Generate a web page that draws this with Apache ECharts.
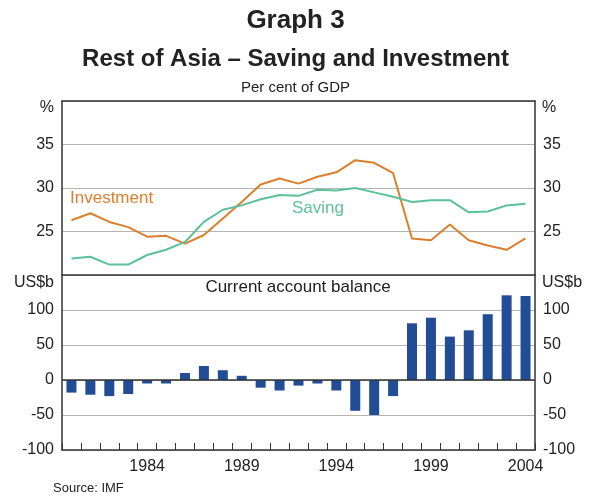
<!DOCTYPE html>
<html>
<head>
<meta charset="utf-8">
<script src="https://cdn.jsdelivr.net/npm/echarts@6/dist/echarts.min.js"></script>
<style>
html,body{margin:0;padding:0;background:#fff;}
#chart{width:591px;height:497px;}
</style>
</head>
<body>
<div id="chart"></div>
<script>
const years = ['1980','1981','1982','1983','1984','1985','1986','1987','1988','1989','1990','1991','1992','1993','1994','1995','1996','1997','1998','1999','2000','2001','2002','2003','2004'];
const investment = [26.3,27.1,26.1,25.5,24.4,24.5,23.6,24.6,26.5,28.4,30.4,31.1,30.5,31.3,31.8,33.2,32.9,31.7,24.2,24.0,25.8,24.0,23.4,22.9,24.2];
const saving = [21.9,22.1,21.2,21.2,22.3,22.9,23.8,26.1,27.5,28.0,28.7,29.2,29.1,29.8,29.7,30.0,29.5,29.0,28.4,28.6,28.6,27.2,27.3,28.0,28.2];
const currentAccount = [-18,-21,-23,-20,-5,-5,10,20,14,6,-11,-15,-8,-5,-15,-44,-50,-23,81,89,62,71,94,121,120];
const labelYears = ['1984','1989','1994','1999','2004'];

const frame = '#333333';
const gridCol = '#b4b4b4';
const txt = '#222222';
const font = 'Liberation Sans, Arial, sans-serif';

const chart = echarts.init(document.getElementById('chart'), null, {renderer:'canvas'});
const yLab = (hide) => ({
  show: true, fontSize: 16, color: txt, fontFamily: font, margin: 8,
  formatter: v => (hide.indexOf(v) >= 0 ? '' : String(v))
});
chart.setOption({
  animation: false,
  backgroundColor: '#ffffff',
  grid: [
    {left: 62, right: 56, top: 101, height: 174},
    {left: 62, right: 56, top: 275, height: 175}
  ],
  xAxis: [
    {gridIndex: 0, type: 'category', data: years, position: 'bottom',
     axisLine: {show: true, lineStyle: {color: frame, width: 1.5}}, axisTick: {show: false}, axisLabel: {show: false}},
    {gridIndex: 0, type: 'category', data: years, position: 'top',
     axisLine: {show: true, lineStyle: {color: frame, width: 1.5}}, axisTick: {show: false}, axisLabel: {show: false}},
    {gridIndex: 1, type: 'category', data: years, position: 'bottom',
     axisLine: {show: true, onZero: false, lineStyle: {color: frame, width: 1.5}},
     axisTick: {show: true, inside: true, length: 7, interval: 0, lineStyle: {color: frame, width: 1}},
     axisLabel: {show: true, interval: 0, fontSize: 16, color: txt, fontFamily: font, margin: 9,
       formatter: v => (labelYears.indexOf(v) >= 0 ? v : '')}}
  ],
  yAxis: [
    {gridIndex: 0, type: 'value', min: 20, max: 40, interval: 5, position: 'left',
     axisLine: {show: true, lineStyle: {color: frame, width: 1.5}}, axisTick: {show: false},
     axisLabel: yLab([20, 40]), splitLine: {show: true, lineStyle: {color: gridCol, width: 1}}},
    {gridIndex: 0, type: 'value', min: 20, max: 40, interval: 5, position: 'right',
     axisLine: {show: true, lineStyle: {color: frame, width: 1.5}}, axisTick: {show: false},
     axisLabel: yLab([20, 40]), splitLine: {show: false}},
    {gridIndex: 1, type: 'value', min: -100, max: 150, interval: 50, position: 'left',
     axisLine: {show: true, onZero: false, lineStyle: {color: frame, width: 1.5}}, axisTick: {show: false},
     axisLabel: yLab([150]), splitLine: {show: true, lineStyle: {color: gridCol, width: 1}}},
    {gridIndex: 1, type: 'value', min: -100, max: 150, interval: 50, position: 'right',
     axisLine: {show: true, onZero: false, lineStyle: {color: frame, width: 1.5}}, axisTick: {show: false},
     axisLabel: yLab([150]), splitLine: {show: false}}
  ],
  series: [
    {name: 'Investment', type: 'line', xAxisIndex: 0, yAxisIndex: 0, data: investment,
     showSymbol: false, lineStyle: {color: '#dc7f2c', width: 2}, itemStyle: {color: '#dc7f2c'}},
    {name: 'Saving', type: 'line', xAxisIndex: 0, yAxisIndex: 0, data: saving,
     showSymbol: false, lineStyle: {color: '#5cc09a', width: 2}, itemStyle: {color: '#5cc09a'}},
    {name: 'Current account balance', type: 'bar', xAxisIndex: 2, yAxisIndex: 2, data: currentAccount,
     barWidth: 10, itemStyle: {color: '#234c97'},
     markLine: {silent: true, symbol: 'none', label: {show: false},
       lineStyle: {color: frame, width: 1.5, type: 'solid'}, data: [{yAxis: 0}]}}
  ],
  graphic: [
    {type: 'text', left: 'center', top: 8, style: {text: 'Graph 3', font: 'bold 26px ' + font, fill: txt}},
    {type: 'text', left: 'center', top: 47, style: {text: 'Rest of Asia – Saving and Investment', font: 'bold 24px ' + font, fill: txt}},
    {type: 'text', left: 'center', top: 80, style: {text: 'Per cent of GDP', font: '15px ' + font, fill: txt}},
    {type: 'text', x: 298, y: 287, style: {text: 'Current account balance', font: '17px ' + font, fill: txt, textAlign: 'center', textVerticalAlign: 'middle'}},
    {type: 'text', x: 54, y: 108, style: {text: '%', font: '16px ' + font, fill: txt, textAlign: 'right', textVerticalAlign: 'middle'}},
    {type: 'text', x: 542, y: 108, style: {text: '%', font: '16px ' + font, fill: txt, textAlign: 'left', textVerticalAlign: 'middle'}},
    {type: 'text', x: 54, y: 283, style: {text: 'US$b', font: '16px ' + font, fill: txt, textAlign: 'right', textVerticalAlign: 'middle'}},
    {type: 'text', x: 542, y: 283, style: {text: 'US$b', font: '16px ' + font, fill: txt, textAlign: 'left', textVerticalAlign: 'middle'}},
    {type: 'text', x: 70, y: 198, style: {text: 'Investment', font: '17px ' + font, fill: '#dc7f2c', textVerticalAlign: 'middle'}},
    {type: 'text', x: 292, y: 208, style: {text: 'Saving', font: '17px ' + font, fill: '#5cc09a', textVerticalAlign: 'middle'}},
    {type: 'text', x: 53, y: 488, style: {text: 'Source: IMF', font: '13px ' + font, fill: txt, textVerticalAlign: 'middle'}}
  ]
});
</script>
</body>
</html>
